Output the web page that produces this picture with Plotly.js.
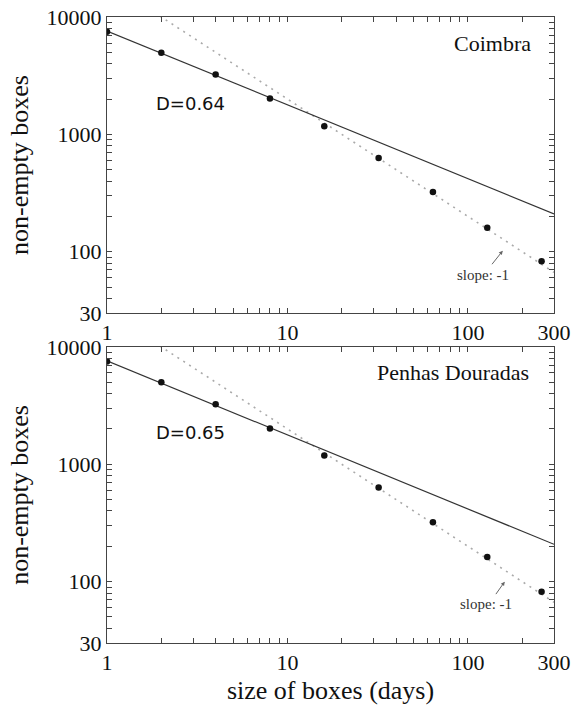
<!DOCTYPE html>
<html><head><meta charset="utf-8">
<script src="https://cdn.plot.ly/plotly-3.0.1.min.js"></script>
<style>body{margin:0;background:#fff}#c{width:574px;height:705px}</style>
</head><body><div id="c"></div>
<script>
// Data
const boxSizes = [1, 2, 4, 8, 16, 32, 64, 128, 256];
const coimbraBoxes = [7500, 4950, 3230, 2020, 1170, 630, 323, 160, 83];
const penhasBoxes = [7500, 4990, 3240, 2020, 1190, 635, 321, 162, 82];
const fitX = [1, 300];
const coimbraFit = [7600, 210];
const penhasFit = [7600, 208];
const slopeX = [1, 300];
const slopeY = [20000, 66.7];
const xTickVals = [1, 10, 100, 300];
const yTickVals = [30, 100, 1000, 10000];
const panelNames = ['Coimbra', 'Penhas Douradas'];
const dLabels = ['D=0.64', 'D=0.65'];

const xMinor = [2,3,4,5,6,7,8,9,20,30,40,50,60,70,80,90,200];
const yMinor = [40,50,60,70,80,90,200,300,400,500,600,700,800,900,2000,3000,4000,5000,6000,7000,8000,9000];

function pts(x, y, xa, ya) {
  return {x: x, y: y, xaxis: xa, yaxis: ya, mode: 'markers', type: 'scatter',
    marker: {color: '#111', size: 6.5}, showlegend: false};
}
function solid(x, y, xa, ya) {
  return {x: x, y: y, xaxis: xa, yaxis: ya, mode: 'lines', type: 'scatter',
    line: {color: '#333', width: 1.2}, showlegend: false};
}
function dotted(x, y, xa, ya) {
  return {x: x, y: y, xaxis: xa, yaxis: ya, mode: 'lines', type: 'scatter',
    line: {color: '#aaa', width: 1.6, dash: '2px,5px'}, showlegend: false};
}

const data = [
  dotted(slopeX, slopeY, 'x', 'y'),
  solid(fitX, coimbraFit, 'x', 'y'),
  pts(boxSizes, coimbraBoxes, 'x', 'y'),
  dotted(slopeX, slopeY, 'x2', 'y2'),
  solid(fitX, penhasFit, 'x2', 'y2'),
  pts(boxSizes, penhasBoxes, 'x2', 'y2')
];

const tickFont = {family: 'Liberation Serif, serif', size: 22, color: '#111'};
const titleFont = {family: 'Liberation Serif, serif', size: 26, color: '#111'};
function allTicks(major, minor) {
  const vals = major.concat(minor).sort((a, b) => a - b);
  const txt = vals.map(v => major.indexOf(v) >= 0 ? String(v) : '');
  return {tickmode: 'array', tickvals: vals, ticktext: txt};
}
function xax(anchor) {
  return Object.assign({type: 'log', range: [0, Math.log10(300)], anchor: anchor,
    tickfont: tickFont,
    ticks: 'inside', ticklen: 5, tickwidth: 1, tickcolor: '#444', showline: true, linecolor: '#444', linewidth: 1,
    mirror: 'allticks', showgrid: false, zeroline: false}, allTicks(xTickVals, xMinor));
}
function yax(anchor, domain) {
  return Object.assign({type: 'log', range: [Math.log10(30), 4], anchor: anchor, domain: domain,
    tickfont: tickFont,
    ticks: 'inside', ticklen: 5, tickwidth: 1, tickcolor: '#444', showline: true, linecolor: '#444', linewidth: 1,
    mirror: 'allticks', showgrid: false, zeroline: false,
    title: {text: 'non-empty boxes', font: titleFont, standoff: 10}}, allTicks(yTickVals, yMinor));
}

const annFontSerif = {family: 'Liberation Serif, serif', size: 22, color: '#111'};
const annFontSans = {family: 'DejaVu Sans, sans-serif', size: 18, color: '#111'};
const smallSerif = {family: 'Liberation Serif, serif', size: 15, color: '#333'};
const L = Math.log10;

const layout = {
  width: 574, height: 705,
  margin: {l: 107, r: 20, t: 17, b: 62},
  paper_bgcolor: '#fff', plot_bgcolor: '#fff',
  xaxis: xax('y'),
  yaxis: yax('x', [0.527, 1]),
  xaxis2: Object.assign(xax('y2'), {title: {text: 'size of boxes (days)', font: titleFont, standoff: 8}}),
  yaxis2: yax('x2', [0, 0.473]),
  annotations: [
    {xref: 'x', yref: 'y', x: L(137), y: L(6000), text: panelNames[0], showarrow: false, font: annFontSerif},
    {xref: 'x', yref: 'y', x: L(2.91), y: L(1830), text: dLabels[0], showarrow: false, font: annFontSans},
    {xref: 'x', yref: 'y', x: L(156), y: L(102), ax: L(134), ay: L(76), axref: 'x', ayref: 'y', text: '', showarrow: true, arrowhead: 2, arrowsize: 0.8, arrowwidth: 1, arrowcolor: '#666'},
    {xref: 'x', yref: 'y', x: L(121), y: L(63), text: 'slope: -1', showarrow: false, font: smallSerif},
    {xref: 'x2', yref: 'y2', x: L(83), y: L(6000), text: panelNames[1], showarrow: false, font: annFontSerif},
    {xref: 'x2', yref: 'y2', x: L(2.91), y: L(1860), text: dLabels[1], showarrow: false, font: annFontSans},
    {xref: 'x2', yref: 'y2', x: L(160), y: L(100), ax: L(141), ay: L(76), axref: 'x2', ayref: 'y2', text: '', showarrow: true, arrowhead: 2, arrowsize: 0.8, arrowwidth: 1, arrowcolor: '#666'},
    {xref: 'x2', yref: 'y2', x: L(126), y: L(64), text: 'slope: -1', showarrow: false, font: smallSerif}
  ]
};

Plotly.newPlot('c', data, layout, {staticPlot: true});
</script></body></html>
